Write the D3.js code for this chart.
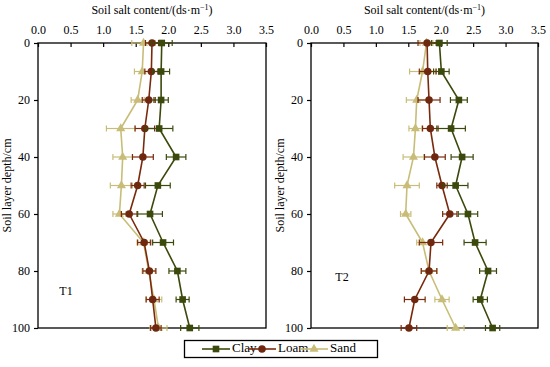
<!DOCTYPE html>
<html>
<head>
<meta charset="utf-8">
<script src="https://cdn.jsdelivr.net/npm/d3@7"></script>
<style>
  body { margin: 0; background: #fff; }
  svg text { font-family: "Liberation Serif", "Times New Roman", Times, serif; }
</style>
</head>
<body>
<div id="chart"></div>
<script>
// depth of each layer (cm)
var depths = [0, 10, 20, 30, 40, 50, 60, 70, 80, 90, 100];
var xTicks = [0, 0.5, 1.0, 1.5, 2.0, 2.5, 3.0, 3.5];
var yTicks = [0, 20, 40, 60, 80, 100];

// T1
var t1Clay    = [1.90, 1.89, 1.89, 1.86, 2.12, 1.84, 1.72, 1.92, 2.14, 2.22, 2.33];
var t1ClayErr = [0.16, 0.13, 0.11, 0.21, 0.15, 0.19, 0.19, 0.16, 0.13, 0.10, 0.14];
var t1Loam    = [1.75, 1.74, 1.70, 1.64, 1.61, 1.53, 1.40, 1.63, 1.71, 1.76, 1.81];
var t1LoamErr = [0.10, 0.10, 0.10, 0.15, 0.16, 0.10, 0.12, 0.10, 0.10, 0.10, 0.08];
var t1Sand    = [1.62, 1.60, 1.53, 1.27, 1.30, 1.28, 1.25, 1.62, 1.70, 1.78, 1.85];
var t1SandErr = [0.18, 0.12, 0.10, 0.22, 0.15, 0.17, 0.10, 0.10, 0.10, 0.12, 0.13];

// T2
var t2Clay    = [1.98, 2.01, 2.28, 2.16, 2.33, 2.23, 2.42, 2.53, 2.73, 2.61, 2.80];
var t2ClayErr = [0.12, 0.12, 0.13, 0.22, 0.17, 0.19, 0.15, 0.17, 0.13, 0.11, 0.11];
var t2Loam    = [1.79, 1.80, 1.82, 1.84, 1.91, 2.02, 2.14, 1.85, 1.82, 1.60, 1.51];
var t2LoamErr = [0.14, 0.13, 0.17, 0.12, 0.16, 0.08, 0.11, 0.18, 0.12, 0.16, 0.12];
var t2Sand    = [1.78, 1.72, 1.63, 1.61, 1.58, 1.48, 1.46, 1.72, 1.82, 2.02, 2.23];
var t2SandErr = [0.10, 0.20, 0.16, 0.10, 0.16, 0.19, 0.08, 0.09, 0.12, 0.11, 0.13];

var seriesNames = ["Clay", "Loam", "Sand"];
var colors = {Clay: "#3b4a0c", Loam: "#7a2a0c", Sand: "#c8bd78"};
var markerFill = {Clay: "#3b4a0c", Loam: "#6e2810", Sand: "#c8bd78"};
var symbols = {Clay: d3.symbolSquare, Loam: d3.symbolCircle, Sand: d3.symbolTriangle};
var symbolSize = {Clay: 44, Loam: 44, Sand: 36};

var panels = [
  {label: "T1", left: 38, right: 266, lx: 66, ly: 292,
   data: {Clay: [t1Clay, t1ClayErr], Loam: [t1Loam, t1LoamErr], Sand: [t1Sand, t1SandErr]}},
  {label: "T2", left: 311, right: 538, lx: 342, ly: 278,
   data: {Clay: [t2Clay, t2ClayErr], Loam: [t2Loam, t2LoamErr], Sand: [t2Sand, t2SandErr]}}
];

var W = 550, H = 367, plotTop = 43, plotBottom = 328;
var serif = "'Liberation Serif', 'Times New Roman', Times, serif";

var svg = d3.select("#chart").append("svg")
  .attr("width", W).attr("height", H)
  .attr("font-family", serif);

panels.forEach(function(p) {
  var x = d3.scaleLinear().domain([0, 3.5]).range([p.left, p.right]);
  var y = d3.scaleLinear().domain([0, 100]).range([plotTop, plotBottom]);
  var g = svg.append("g");

  // frame
  g.append("rect")
    .attr("x", p.left).attr("y", plotTop)
    .attr("width", p.right - p.left).attr("height", plotBottom - plotTop)
    .attr("fill", "none").attr("stroke", "#000").attr("stroke-width", 1.3);

  // top axis, ticks inward
  var xa = g.append("g")
    .attr("transform", "translate(0," + plotTop + ")")
    .call(d3.axisTop(x).tickValues(xTicks).tickSizeInner(-4).tickSizeOuter(0)
      .tickPadding(9).tickFormat(d3.format(".1f")));
  xa.attr("font-family", serif).attr("font-size", 12);
  xa.select(".domain").remove();
  xa.selectAll("line").attr("stroke-width", 1.2);

  // left axis, ticks outward
  var ya = g.append("g")
    .attr("transform", "translate(" + p.left + ",0)")
    .call(d3.axisLeft(y).tickValues(yTicks).tickSizeInner(4).tickSizeOuter(0).tickPadding(4));
  ya.attr("font-family", serif).attr("font-size", 12);
  ya.select(".domain").remove();
  ya.selectAll("line").attr("stroke-width", 1.2);

  // axis titles
  var t = g.append("text")
    .attr("x", (p.left + p.right) / 2).attr("y", 14)
    .attr("text-anchor", "middle").attr("font-size", 12);
  t.append("tspan").text("Soil salt content/(ds\u00b7m");
  t.append("tspan").attr("dy", -4).attr("font-size", 8).text("\u22121");
  t.append("tspan").attr("dy", 4).text(")");

  g.append("text")
    .attr("transform", "translate(" + (p.left - 27) + "," + ((plotTop + plotBottom) / 2) + ") rotate(-90)")
    .attr("text-anchor", "middle").attr("font-size", 12)
    .text("Soil layer depth/cm");

  g.append("text")
    .attr("x", p.lx).attr("y", p.ly).attr("text-anchor", "middle")
    .attr("dominant-baseline", "middle").attr("font-size", 12).text(p.label);

  var line = d3.line()
    .x(function(d) { return x(d.v); })
    .y(function(d) { return y(d.depth); });

  seriesNames.slice().reverse().forEach(function(name) {
    var vals = p.data[name][0], errs = p.data[name][1];
    var pts = depths.map(function(dp, i) { return {depth: dp, v: vals[i], e: errs[i]}; });
    var s = g.append("g");

    // error bars
    var eb = s.selectAll(".eb").data(pts).enter().append("g");
    eb.append("line")
      .attr("x1", function(d) { return x(d.v - d.e); })
      .attr("x2", function(d) { return x(d.v + d.e); })
      .attr("y1", function(d) { return y(d.depth); })
      .attr("y2", function(d) { return y(d.depth); })
      .attr("stroke", colors[name]).attr("stroke-width", 1.2);
    [-1, 1].forEach(function(sgn) {
      eb.append("line")
        .attr("x1", function(d) { return x(d.v + sgn * d.e); })
        .attr("x2", function(d) { return x(d.v + sgn * d.e); })
        .attr("y1", function(d) { return y(d.depth) - 3; })
        .attr("y2", function(d) { return y(d.depth) + 3; })
        .attr("stroke", colors[name]).attr("stroke-width", 1.2);
    });

    s.append("path").datum(pts)
      .attr("d", line).attr("fill", "none")
      .attr("stroke", colors[name]).attr("stroke-width", 1.6);

    s.selectAll(".m").data(pts).enter().append("path")
      .attr("transform", function(d) { return "translate(" + x(d.v) + "," + y(d.depth) + ")"; })
      .attr("d", d3.symbol().type(symbols[name]).size(symbolSize[name]))
      .attr("fill", markerFill[name]);
  });
});

// legend
var lg = svg.append("g");
lg.append("rect").attr("x", 184.5).attr("y", 340.5).attr("width", 193).attr("height", 17)
  .attr("fill", "#fff").attr("stroke", "#000").attr("stroke-width", 1.3);
var legendX = [202, 248, 300];
seriesNames.forEach(function(name, i) {
  var lx = legendX[i];
  lg.append("line").attr("x1", lx).attr("x2", lx + 28).attr("y1", 349).attr("y2", 349)
    .attr("stroke", colors[name]).attr("stroke-width", 1.6);
  lg.append("path").attr("transform", "translate(" + (lx + 14) + ",349)")
    .attr("d", d3.symbol().type(symbols[name]).size(symbolSize[name]))
    .attr("fill", markerFill[name]);
  lg.append("text").attr("x", lx + 30).attr("y", 349).attr("dominant-baseline", "middle")
    .attr("font-size", 13).text(name);
});
</script>
</body>
</html>
